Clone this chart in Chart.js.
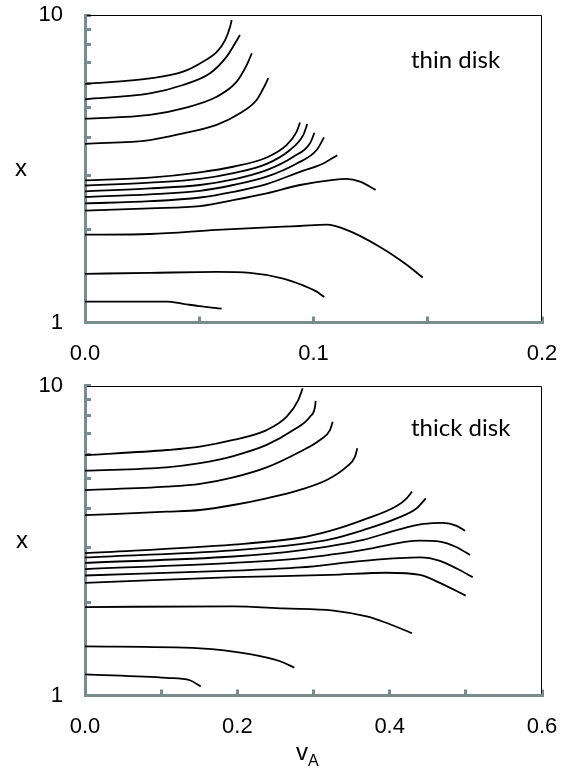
<!DOCTYPE html>
<html>
<head>
<meta charset="utf-8">
<script src="https://cdn.jsdelivr.net/npm/chart.js@4/dist/chart.umd.min.js"></script>
<style>
  body { margin: 0; background: #fff; }
  #page { position: relative; width: 566px; height: 769px; overflow: hidden; }
  .panel { position: absolute; left: 0; width: 566px; }
  #topPanel { top: 0; height: 370px; }
  #bottomPanel { top: 370px; height: 399px; }
  .lbl { position: absolute; font-family: 'Liberation Sans', Arial, sans-serif; font-size: 24px; line-height: 24px; color: #000; white-space: nowrap; }
  .note { position: absolute; font-family: Lato, sans-serif; font-size: 24px; line-height: 24px; color: #000; white-space: nowrap; }
</style>
</head>
<body>
<div id="page">
  <div class="panel" id="topPanel"><canvas id="thinChart"></canvas></div>
  <div class="panel" id="bottomPanel"><canvas id="thickChart"></canvas></div>
  <div class="lbl" style="left:15px; top:156px;">x</div>
  <div class="lbl" style="left:16px; top:528px;">x</div>
  <div class="lbl" style="left:296px; top:740px;">v<span style="font-size:16px; position:relative; top:6px;">A</span></div>
  <div class="note" style="left:411px; top:47px;">thin disk</div>
  <div class="note" style="left:411px; top:415px;">thick disk</div>
</div>
<script>
// each curve: [vA, x] pairs

// thin disk (top panel)
const thin1 = [[0, 5.97], [0.0284, 6.22], [0.0429, 6.54], [0.0516, 7.05], [0.0578, 7.60], [0.0613, 8.29], [0.0635, 9.16], [0.0642, 9.63]];
const thin2 = [[0, 5.32], [0.0284, 5.56], [0.0429, 5.92], [0.0547, 6.46], [0.062, 7.32], [0.0657, 8.09], [0.0678, 8.61]];
const thin3 = [[0, 4.60], [0.0284, 4.73], [0.0429, 4.97], [0.0576, 5.42], [0.0664, 6.07], [0.0708, 6.88], [0.073, 7.51]];
const thin4 = [[0, 3.81], [0.0284, 3.92], [0.0429, 4.12], [0.0576, 4.39], [0.0678, 4.79], [0.0751, 5.29], [0.0788, 5.92], [0.0802, 6.23]];
const thin5 = [[0, 2.90], [0.0284, 2.96], [0.0503, 3.08], [0.0648, 3.21], [0.0795, 3.44], [0.0883, 3.78], [0.0926, 4.17], [0.0941, 4.47]];
const thin6 = [[0, 2.79], [0.0284, 2.85], [0.0503, 2.93], [0.0649, 3.06], [0.0795, 3.28], [0.0897, 3.64], [0.0955, 4.07], [0.0973, 4.42]];
const thin7 = [[0, 2.67], [0.0284, 2.73], [0.0503, 2.80], [0.0649, 2.92], [0.0795, 3.13], [0.0912, 3.46], [0.0985, 3.83], [0.1004, 4.14]];
const thin8 = [[0, 2.56], [0.0284, 2.61], [0.0503, 2.68], [0.0649, 2.80], [0.0795, 2.98], [0.0927, 3.29], [0.1014, 3.64], [0.1046, 4.00]];
const thin9 = [[0, 2.44], [0.0284, 2.48], [0.0503, 2.55], [0.0649, 2.66], [0.0795, 2.82], [0.0941, 3.09], [0.1043, 3.29], [0.1104, 3.50]];
const thin10 = [[0, 2.31], [0.0284, 2.35], [0.0503, 2.39], [0.0649, 2.50], [0.0795, 2.63], [0.0941, 2.80], [0.1087, 2.91], [0.1145, 2.93], [0.1204, 2.87], [0.1272, 2.70]];
const thin11 = [[0, 1.93], [0.0284, 1.94], [0.0576, 2.00], [0.0868, 2.05], [0.094, 2.06], [0.1058, 2.08], [0.1145, 2.00], [0.1291, 1.76], [0.1408, 1.54], [0.1478, 1.40]];
const thin12 = [[0, 1.44], [0.0284, 1.45], [0.0576, 1.46], [0.0722, 1.45], [0.0868, 1.39], [0.0955, 1.32], [0.1014, 1.26], [0.1047, 1.21]];
const thin13 = [[0, 1.17], [0.0358, 1.17], [0.043, 1.15], [0.05, 1.13], [0.0598, 1.11]];

// thick disk (bottom panel)
const thick1 = [[0, 5.97], [0.1073, 6.20], [0.151, 6.36], [0.1947, 6.68], [0.2385, 7.19], [0.2648, 7.94], [0.28, 8.99], [0.2858, 9.81]];
const thick2 = [[0, 5.32], [0.1073, 5.45], [0.151, 5.62], [0.1947, 5.93], [0.2385, 6.44], [0.2735, 7.19], [0.2954, 7.94], [0.302, 8.55], [0.3029, 8.94]];
const thick3 = [[0, 4.60], [0.1073, 4.72], [0.151, 4.82], [0.1947, 5.06], [0.2385, 5.45], [0.2822, 6.12], [0.3085, 6.68], [0.3216, 7.19], [0.3252, 7.65]];
const thick4 = [[0, 3.82], [0.1073, 3.92], [0.151, 3.97], [0.1947, 4.12], [0.2385, 4.33], [0.2822, 4.61], [0.3173, 4.96], [0.3436, 5.48], [0.3545, 5.90], [0.3575, 6.28]];
const thick5 = [[0, 2.88], [0.1947, 3.07], [0.2822, 3.23], [0.3216, 3.40], [0.3654, 3.69], [0.4092, 4.09], [0.4223, 4.33], [0.4293, 4.55]];
const thick6 = [[0, 2.79], [0.1947, 2.94], [0.2822, 3.08], [0.3216, 3.19], [0.3654, 3.42], [0.4092, 3.73], [0.4355, 4.02], [0.4473, 4.33]];
const thick7 = [[0, 2.68], [0.1947, 2.81], [0.2822, 2.94], [0.3654, 3.18], [0.4092, 3.42], [0.4442, 3.58], [0.4704, 3.61], [0.488, 3.53], [0.4989, 3.40]];
const thick8 = [[0, 2.56], [0.1947, 2.68], [0.2822, 2.77], [0.3654, 2.95], [0.4398, 3.16], [0.466, 3.14], [0.488, 3.01], [0.5055, 2.84]];
const thick9 = [[0, 2.44], [0.1947, 2.53], [0.2822, 2.59], [0.3654, 2.72], [0.4398, 2.79], [0.466, 2.72], [0.488, 2.57], [0.509, 2.41]];
const thick10 = [[0, 2.31], [0.1947, 2.41], [0.3216, 2.45], [0.3961, 2.49], [0.4398, 2.45], [0.466, 2.31], [0.4998, 2.10]];
const thick11 = [[0, 1.93], [0.1947, 1.94], [0.2604, 1.91], [0.326, 1.88], [0.3698, 1.80], [0.3916, 1.73], [0.4293, 1.59]];
const thick12 = [[0, 1.44], [0.151, 1.42], [0.2166, 1.36], [0.256, 1.29], [0.2748, 1.23]];
const thick13 = [[0, 1.17], [0.1073, 1.14], [0.1378, 1.12], [0.1519, 1.07]];

const thinCurves = [thin1, thin2, thin3, thin4, thin5, thin6, thin7, thin8, thin9, thin10, thin11, thin12, thin13];
const thickCurves = [thick1, thick2, thick3, thick4, thick5, thick6, thick7, thick8, thick9, thick10, thick11, thick12, thick13];

// axis ranges and ticks
const yTicks = [1, 2, 3, 4, 5, 6, 7, 8, 9, 10];
const yLabels = [1, 10];
const thinXMax = 0.2, thinXStep = 0.05, thinLabelStep = 0.1;
const thickXMax = 0.6, thickXStep = 0.1, thickLabelStep = 0.2;

const AXIS_GRAY = '#7b8b8b';
const tickFont = { family: "'Liberation Sans', Arial, sans-serif", size: 22 };

// thin black frame on top and right
const framePlugin = {
  id: 'frame',
  afterDraw(chart) {
    const { ctx, chartArea: a } = chart;
    ctx.save();
    ctx.strokeStyle = '#000';
    ctx.lineWidth = 1;
    ctx.beginPath();
    ctx.moveTo(a.left + 2, Math.round(a.top) + 0.5);
    ctx.lineTo(Math.round(a.right) - 0.5, Math.round(a.top) + 0.5);
    ctx.lineTo(Math.round(a.right) - 0.5, a.bottom - 2);
    ctx.stroke();
    ctx.restore();
  },
};

function onStep(v, step) {
  const r = v / step;
  return Math.abs(r - Math.round(r)) < 1e-6;
}

function drawPanel(canvasId, curves, xMax, xStep, labelStep, padTop, axisH) {
  return new Chart(document.getElementById(canvasId), {
    type: 'line',
    data: {
      datasets: curves.map(c => ({
        data: c.map(([v, x]) => ({ x: v, y: x })),
        borderColor: '#000',
        borderWidth: 1.8,
        pointRadius: 0,
        fill: false,
        cubicInterpolationMode: 'monotone',
      })),
    },
    options: {
      responsive: true,
      maintainAspectRatio: false,
      animation: false,
      layout: { padding: { top: padTop, right: 24, left: 0, bottom: 0 } },
      plugins: { legend: { display: false }, tooltip: { enabled: false } },
      scales: {
        x: {
          type: 'linear',
          min: 0,
          max: xMax,
          // fixed box size, and no extra room for the end labels
          afterFit: (s) => { s.height = axisH; s.paddingLeft = 0; s.paddingRight = 0; },
          grid: { drawOnChartArea: false, drawTicks: true, tickLength: -6, color: AXIS_GRAY, lineWidth: 3 },
          border: { color: AXIS_GRAY, width: 3 },
          ticks: {
            stepSize: xStep,
            autoSkip: false,
            maxRotation: 0,
            padding: 24,
            color: '#000',
            font: tickFont,
            callback: (v) => onStep(v, labelStep) ? Number(v).toFixed(1) : '',
          },
        },
        y: {
          type: 'logarithmic',
          min: 1,
          max: 10,
          afterBuildTicks: (s) => { s.ticks = yTicks.map(v => ({ value: v })); },
          afterFit: (s) => { s.width = 85; s.paddingTop = 0; s.paddingBottom = 0; },
          grid: { drawOnChartArea: false, drawTicks: true, tickLength: -6, color: AXIS_GRAY, lineWidth: 3 },
          border: { color: AXIS_GRAY, width: 3 },
          ticks: {
            autoSkip: false,
            padding: 28,
            color: '#000',
            font: tickFont,
            callback: (v) => yLabels.includes(v) ? String(v) : '',
          },
        },
      },
    },
    plugins: [framePlugin],
  });
}

drawPanel('thinChart', thinCurves, thinXMax, thinXStep, thinLabelStep, 15, 47.5);
drawPanel('thickChart', thickCurves, thickXMax, thickXStep, thickLabelStep, 15.7, 73.5);
</script>
</body>
</html>
